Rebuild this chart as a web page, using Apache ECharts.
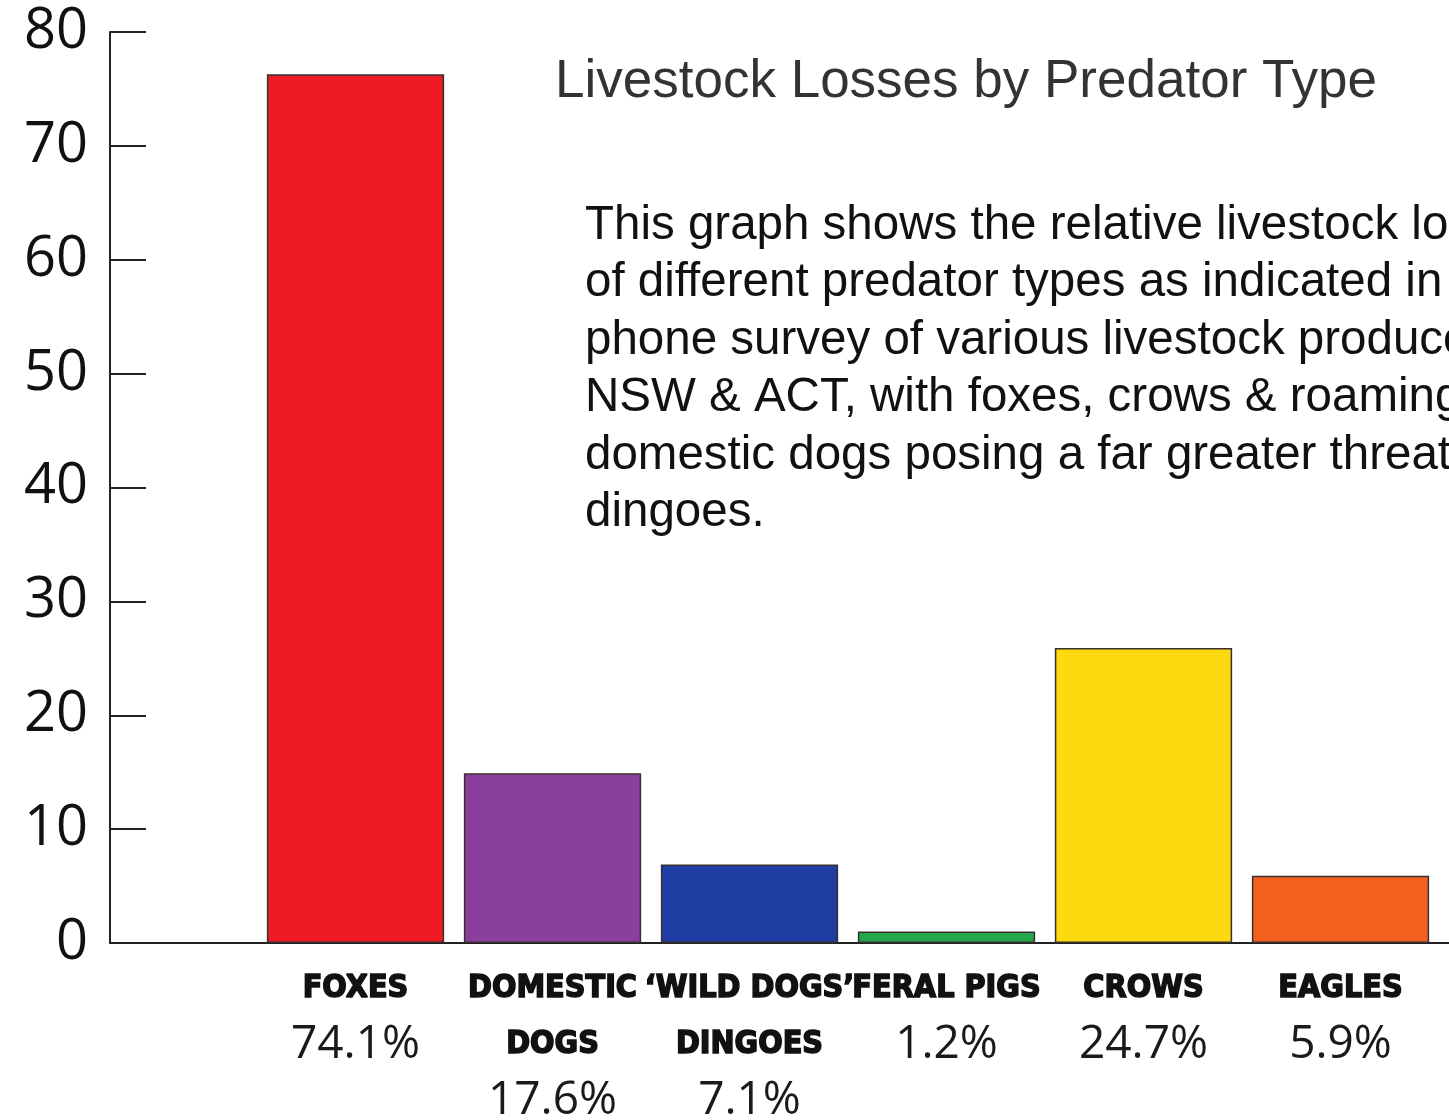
<!DOCTYPE html>
<html>
<head>
<meta charset="utf-8">
<script src="https://cdn.jsdelivr.net/npm/echarts@6/dist/echarts.min.js"></script>
<style>
html,body{margin:0;padding:0;background:#fff;}
#chart{width:1449px;height:1120px;}
</style>
</head>
<body>
<div id="chart"></div>
<script>
// ---- data ----
const categories = ['FOXES', 'DOMESTIC\nDOGS', '\u2018WILD DOGS\u2019\nDINGOES', 'FERAL PIGS', 'CROWS', 'EAGLES'];
const percentLabels = ['74.1%', '17.6%', '7.1%', '1.2%', '24.7%', '5.9%'];
const values = [76.3, 14.9, 6.9, 1.0, 25.9, 5.9];
const barColors = ['#ed1c24', '#8a3f9d', '#1f3ca3', '#22a84a', '#fdd910', '#f2601f'];
const titleText = 'Livestock Losses by Predator Type';
const noteLines = [
  'This graph shows the relative livestock losses',
  'of different predator types as indicated in',
  'phone survey of various livestock producers',
  'NSW & ACT, with foxes, crows & roaming',
  'domestic dogs posing a far greater threat',
  'dingoes.'
];

const chart = echarts.init(document.getElementById('chart'), null, {renderer: 'canvas'});
const option = {
  backgroundColor: '#ffffff',
  animation: false,
  title: [
    {
      text: titleText,
      left: 555, top: 56, padding: 0,
      textStyle: {fontFamily: 'Liberation Sans', fontSize: 53, fontWeight: 'normal', color: '#333333'}
    },
    {
      text: noteLines.join('\n'),
      left: 585, top: 197, padding: 0,
      textStyle: {fontFamily: 'Liberation Sans', fontSize: 47.5, fontWeight: 'normal', color: '#111111', lineHeight: 57.5}
    }
  ],
  grid: [
    {left: 257, right: 10, top: 32, bottom: 177, containLabel: false, outerBoundsMode: 'none'},
    {left: 110, right: 0, top: 32, bottom: 177, containLabel: false, outerBoundsMode: 'none'}
  ],
  xAxis: [
    {
      type: 'category', gridIndex: 0, data: categories,
      axisLine: {show: false}, axisTick: {show: false},
      axisLabel: {
        interval: 0, margin: 18,
        formatter: function (v, i) {
          return v.split('\n').map(s => '{n|' + s + '}').join('\n') + '\n{p|' + percentLabels[i] + '}';
        },
        rich: {
          n: {fontFamily: "'Liberation Sans Narrow', 'DejaVu Sans Condensed', sans-serif", fontWeight: 'bold', fontSize: 32, color: '#111',
              textBorderColor: '#111', textBorderWidth: 1.5, lineHeight: 56},
          p: {fontFamily: 'Open Sans', fontSize: 46, color: '#1a1a1a', lineHeight: 56}
        }
      }
    },
    {
      type: 'value', gridIndex: 1, min: 0, max: 1,
      axisLine: {show: true, lineStyle: {color: '#222', width: 2}},
      axisTick: {show: false}, axisLabel: {show: false}, splitLine: {show: false}
    }
  ],
  yAxis: [
    {
      type: 'value', gridIndex: 1, min: 0, max: 80, interval: 10,
      axisLine: {show: true, lineStyle: {color: '#222', width: 2}},
      axisTick: {show: true, inside: true, length: 36, lineStyle: {color: '#222', width: 2}},
      axisLabel: {margin: 22, fontFamily: 'Open Sans', fontSize: 56, color: '#111'},
      splitLine: {show: false}
    },
    {
      type: 'value', gridIndex: 0, min: 0, max: 80, interval: 10, show: false
    }
  ],
  series: [
    {
      type: 'bar', xAxisIndex: 0, yAxisIndex: 1,
      barCategoryGap: '10%',
      data: values.map((v, i) => ({value: v, itemStyle: {color: barColors[i]}})),
      itemStyle: {borderColor: '#3a2f2f', borderWidth: 1.5}
    }
  ]
};
chart.setOption(option);
</script>
</body>
</html>
